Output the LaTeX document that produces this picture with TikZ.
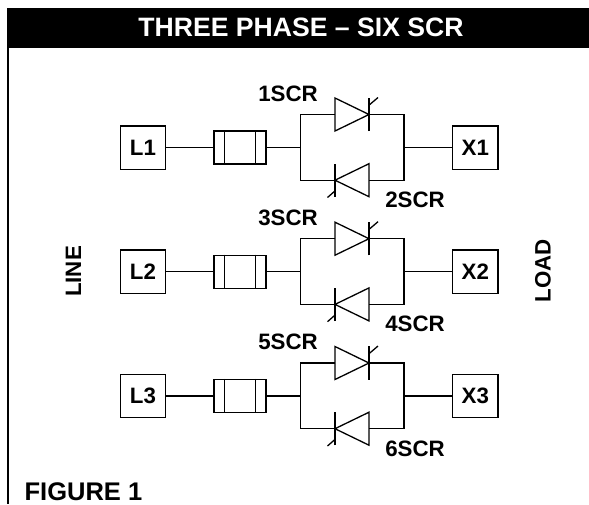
\documentclass[tikz,border=0pt]{standalone}
\usepackage{fontspec}
\setmainfont{Liberation Sans}
\tikzset{
	lbl/.style={font=\fontsize{22.3}{24}\selectfont\bfseries,inner sep=0pt},
	bigLbl/.style={font=\fontsize{26.6}{28}\selectfont\bfseries,inner sep=0pt},
	figLbl/.style={font=\fontsize{25.5}{28}\selectfont\bfseries,inner sep=0pt},
	termBox/.style={draw,lbl,minimum width=45.5pt,minimum height=43.3pt},
	fuseBox/.style={draw,inner sep=0pt,minimum width=52pt,minimum height=33pt},
}
\begin{document}
\begin{tikzpicture}[x=1pt,y=-1pt,line width=1.3pt]
	\useasboundingbox (0,0) rectangle (589,504);
	\fill[black] (7,8) rectangle (589,47.7);
	\draw[line width=2pt] (8,47) -- (8,504);
	\node[bigLbl,text=white,anchor=base] (title) at (301,36) {THREE PHASE -- SIX SCR};
	\node[figLbl,anchor=base west] (fig) at (24,500.5) {FIGURE 1};
	\node[lbl,rotate=90,anchor=base] (line) at (81,271.5) {LINE};
	\node[lbl,rotate=90,anchor=base] (load) at (550.5,271) {LOAD};
	\foreach \n/\y/\a/\b in {1/147.5/1/2,2/271.7/3/4,3/396/5/6}{
		\node[termBox] (L\n) at (143,\y) {L\n};
		\node[fuseBox] (F\n) at (240,\y) {};
		\node[termBox] (X\n) at (475.3,\y) {X\n};
		\draw ([xshift=-15.5pt]F\n.north) -- ([xshift=-15.5pt]F\n.south);
		\draw ([xshift=15.5pt]F\n.north) -- ([xshift=15.5pt]F\n.south);
		\coordinate (JL\n) at (300.5,\y);
		\coordinate (JR\n) at (404,\y);
		\coordinate (AU\n) at (335,\y-33);
		\coordinate (KU\n) at (369,\y-33);
		\coordinate (KD\n) at (335,\y+32.7);
		\coordinate (AD\n) at (369,\y+32.7);
		\draw (L\n) -- (F\n);
		\draw (F\n) -- (JL\n);
		\draw (JR\n) -- (X\n);
		\draw (AU\n) -| (JL\n) |- (KD\n);
		\draw (KU\n) -| (JR\n) |- (AD\n);
		% upper SCR
		\draw ([yshift=-16.5pt]AU\n) -- ([yshift=16.5pt]AU\n) -- (KU\n) -- cycle;
		\draw ([yshift=-16.7pt]KU\n) -- ([yshift=16.7pt]KU\n);
		\draw ([yshift=9.3pt]KU\n) -- ++(9,-7.7);
		% lower SCR
		\draw ([yshift=-16.5pt]AD\n) -- ([yshift=16.5pt]AD\n) -- (KD\n) -- cycle;
		\draw ([yshift=-16.7pt]KD\n) -- ([yshift=16.7pt]KD\n);
		\draw ([yshift=-10.7pt]KD\n) -- ++(-7.5,6.6);
		\node[lbl,anchor=base] (S\a) at (288,\y-46.5) {\a SCR};
		\node[lbl,anchor=base] (S\b) at (415,\y+60) {\b SCR};
	}
\end{tikzpicture}
\end{document}
